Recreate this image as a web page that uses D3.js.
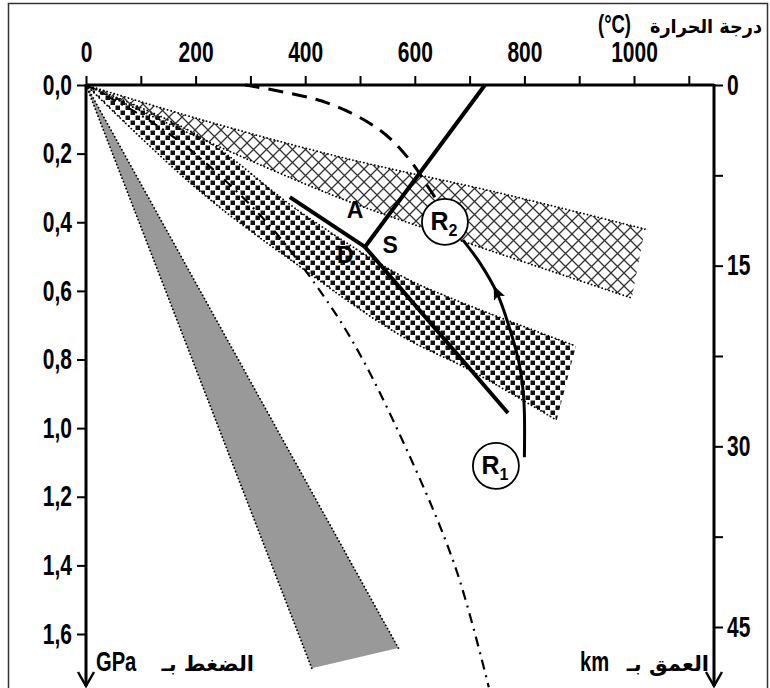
<!DOCTYPE html>
<html>
<head>
<meta charset="utf-8">
<script src="https://cdn.jsdelivr.net/npm/d3@7"></script>
<style>
  body { margin: 0; background: #fff; }
</style>
</head>
<body>
<svg id="chart" width="770" height="688"></svg>
<script>
// axis ticks
var tempTicks = [0, 100, 200, 300, 400, 500, 600, 700, 800, 900, 1000, 1100];
var tempLabels = [0, 200, 400, 600, 800, 1000];
var pressTicks = [0, 0.2, 0.4, 0.6, 0.8, 1.0, 1.2, 1.4, 1.6];
var depthTicks = [0, 7.5, 15, 22.5, 30, 37.5, 45];
var depthLabels = [0, 15, 30, 45];

// bands, points are [T (°C), P (GPa)]
var crossUpper = [[0, 0], [208, 0.1], [464, 0.21], [755, 0.315], [1020, 0.42]];
var crossLower = [[0, 0], [208, 0.155], [464, 0.33], [628, 0.423], [996, 0.621]];
var dotUpper = [[0, 0], [208, 0.15], [391, 0.37], [573, 0.554], [664, 0.62], [894, 0.761]];
var dotLower = [[0, 0], [208, 0.31], [391, 0.53], [573, 0.729], [701, 0.831], [859, 0.977]];
var greyWedge = [[0, 0], [412, 1.70], [570, 1.641]];

// curves
var dashDot = [[0, 0], [105, 0.093], [191, 0.19], [314, 0.373], [393, 0.525], [485, 0.743], [583, 1.055], [674, 1.405], [735, 1.755]];
var dashed = [[290, 0], [440, 0.052], [536, 0.131], [591, 0.219], [628, 0.306], [646, 0.35]];

// aluminosilicate lines (triple point shared)
var triple = [509, 0.472];
var lineAD = [[372, 0.327], triple];
var lineAS = [triple, [728, 0]];
var lineDS = [triple, [770, 0.956]];

// R1 -> R2 path
var pathR = [[800, 1.085], [799, 0.918], [791, 0.816], [774, 0.714], [750, 0.606], [719, 0.519], [688, 0.452]];

var circles = [
  {name: 'R', sub: '1', t: 748, p: 1.11},
  {name: 'R', sub: '2', t: 655, p: 0.399}
];
var letters = [
  {name: 'A', t: 491, p: 0.364},
  {name: 'D', t: 473, p: 0.496},
  {name: 'S', t: 555, p: 0.466}
];

var numFont = "'Liberation Sans', Arial, sans-serif";
var arFont = "'DejaVu Sans', 'Noto Sans', sans-serif";
var narrow = 'scale(0.84,1.15)';

var svg = d3.select('#chart');

var x = d3.scaleLinear().domain([0, 1000]).range([86, 634]);
var yP = d3.scaleLinear().domain([0, 1.6]).range([85, 634]);
var yKm = d3.scaleLinear().domain([0, 45]).range([85, 627]);

var xRight = 714, yTop = 85, yBottom = 686;

// patterns
var defs = svg.append('defs');
var hatch = defs.append('pattern').attr('id', 'hatch')
  .attr('patternUnits', 'userSpaceOnUse').attr('width', 13).attr('height', 13);
hatch.append('path').attr('d', 'M0,0L13,13M13,0L0,13M-1,12L1,14M12,-1L14,1')
  .attr('stroke', '#333').attr('stroke-width', 1.3).attr('fill', 'none');

var dots = defs.append('pattern').attr('id', 'dots')
  .attr('patternUnits', 'userSpaceOnUse').attr('width', 10).attr('height', 10);
dots.append('rect').attr('x', 0.5).attr('y', 0.5).attr('width', 4.5).attr('height', 4.5).attr('fill', '#111');
dots.append('rect').attr('x', 5.5).attr('y', 5.5).attr('width', 4.5).attr('height', 4.5).attr('fill', '#111');

// outer frame
svg.append('rect').attr('x', 8.5).attr('y', 3.5).attr('width', 759).attr('height', 700)
  .attr('fill', 'none').attr('stroke', '#333').attr('stroke-width', 1.5);

var line = d3.line().x(function(d) { return x(d[0]); }).y(function(d) { return yP(d[1]); });
var curve = d3.line().x(function(d) { return x(d[0]); }).y(function(d) { return yP(d[1]); })
  .curve(d3.curveCatmullRom);

function band(upper, lower) {
  var a = curve(upper);
  var b = curve(lower.slice().reverse());
  return a + 'L' + b.slice(1) + 'Z';
}

function dotted(pts, c) {
  svg.append('path').attr('d', (c || curve)(pts)).attr('fill', 'none')
    .attr('stroke', '#000').attr('stroke-width', 1.8)
    .attr('stroke-dasharray', '0.1,3.6').attr('stroke-linecap', 'round');
}

// grey wedge
svg.append('path').attr('d', line(greyWedge) + 'Z').attr('fill', '#999');
dotted([greyWedge[0], greyWedge[1]], line);
dotted([greyWedge[0], greyWedge[2]], line);

// bands
svg.append('path').attr('d', band(dotUpper, dotLower)).attr('fill', 'url(#dots)');
dotted(dotUpper);
dotted(dotLower);
svg.append('path').attr('d', band(crossUpper, crossLower)).attr('fill', 'url(#hatch)');
dotted(crossUpper);
dotted(crossLower);

// dash-dot and dashed curves
svg.append('path').attr('d', curve(dashDot)).attr('fill', 'none')
  .attr('stroke', '#000').attr('stroke-width', 2.2).attr('stroke-dasharray', '10,6,2,6');
svg.append('path').attr('d', curve(dashed)).attr('fill', 'none')
  .attr('stroke', '#000').attr('stroke-width', 3).attr('stroke-dasharray', '15,9');

// aluminosilicate lines
[lineAD, lineAS, lineDS].forEach(function(l) {
  svg.append('path').attr('d', line(l)).attr('fill', 'none')
    .attr('stroke', '#000').attr('stroke-width', 4);
});

// R1 -> R2 path with arrow
svg.append('path').attr('d', curve(pathR)).attr('fill', 'none')
  .attr('stroke', '#000').attr('stroke-width', 3);
var a0 = pathR[3], a1 = pathR[5];
var ang = Math.atan2(yP(a1[1]) - yP(a0[1]), x(a1[0]) - x(a0[0])) * 180 / Math.PI;
svg.append('path').attr('d', 'M8,0L-6,-6L-3,0L-6,6Z').attr('fill', '#000')
  .attr('transform', 'translate(' + x(pathR[4][0]) + ',' + yP(pathR[4][1]) + ') rotate(' + ang + ')');

// letters
letters.forEach(function(l) {
  svg.append('text').attr('x', x(l.t)).attr('y', yP(l.p)).attr('dy', '0.36em')
    .attr('text-anchor', 'middle').attr('font-family', "'Liberation Sans', sans-serif")
    .attr('font-weight', 'bold').attr('font-size', 23).text(l.name);
});

// circles R1, R2
circles.forEach(function(c) {
  var g = svg.append('g').attr('transform', 'translate(' + x(c.t) + ',' + yP(c.p) + ')');
  g.append('circle').attr('r', 23).attr('fill', '#fff').attr('stroke', '#000').attr('stroke-width', 1.8);
  var t = g.append('text').attr('text-anchor', 'middle').attr('x', -1).attr('y', 8)
    .attr('font-family', "'Liberation Sans', sans-serif").attr('font-weight', 'bold').attr('font-size', 25);
  t.append('tspan').text(c.name);
  t.append('tspan').attr('font-size', 16).attr('dy', 6).text(c.sub);
});

// axes
function styleAxis(g) {
  g.select('.domain').remove();
  g.selectAll('.tick line').attr('stroke', '#000').attr('stroke-width', 2);
  g.selectAll('.tick text').attr('fill', '#000').each(function() {
    var t = d3.select(this);
    var tx = +t.attr('x') || 0, ty = +t.attr('y') || 0;
    t.attr('x', 0).attr('y', 0).attr('transform', 'translate(' + tx + ',' + ty + ') ' + narrow);
  });
  g.attr('font-family', numFont).attr('font-weight', 'bold').attr('font-size', 25);
}

svg.append('g').attr('transform', 'translate(0,' + yTop + ')')
  .call(d3.axisTop(x).tickValues(tempTicks).tickSize(9).tickPadding(14)
    .tickFormat(function(d) { return tempLabels.indexOf(d) >= 0 ? d : ''; }))
  .call(styleAxis);

svg.append('g').attr('transform', 'translate(' + x(0) + ',0)')
  .call(d3.axisLeft(yP).tickValues(pressTicks).tickSize(9).tickPadding(5)
    .tickFormat(function(d) { return d3.format('.1f')(d).replace('.', ','); }))
  .call(styleAxis);

svg.append('g').attr('transform', 'translate(' + xRight + ',0)')
  .call(d3.axisRight(yKm).tickValues(depthTicks).tickSize(9).tickPadding(4)
    .tickFormat(function(d) { return depthLabels.indexOf(d) >= 0 ? d : ''; }))
  .call(styleAxis);

// axis lines with arrows
svg.append('path').attr('d', 'M' + x(0) + ',' + yTop + 'H' + xRight)
  .attr('stroke', '#000').attr('stroke-width', 3).attr('fill', 'none');
[x(0), xRight].forEach(function(ax) {
  svg.append('path').attr('d', 'M' + ax + ',' + (yTop - 1) + 'V' + yBottom)
    .attr('stroke', '#000').attr('stroke-width', 3).attr('fill', 'none');
  svg.append('path').attr('d', 'M' + (ax - 8) + ',' + (yBottom - 14) + 'L' + ax + ',' + yBottom + 'L' + (ax + 8) + ',' + (yBottom - 14))
    .attr('stroke', '#000').attr('stroke-width', 2.5).attr('fill', 'none');
});

// axis titles
function label(txt, xx, yy, anchor, font, size, tr) {
  return svg.append('text').attr('text-anchor', anchor)
    .attr('transform', 'translate(' + xx + ',' + yy + ') ' + (tr || ''))
    .attr('font-family', font).attr('font-weight', 'bold').attr('font-size', size).text(txt);
}
label('(°C)', 598, 33, 'start', numFont, 22, narrow);
label('درجة الحرارة', 762, 33, 'end', arFont, 19)
  .attr('textLength', 112).attr('lengthAdjust', 'spacingAndGlyphs');
label('GPa', 96, 671, 'start', numFont, 24, narrow);
label('الضغط بـ', 254, 671, 'end', arFont, 21);
label('km', 580, 671, 'start', numFont, 24, narrow);
label('العمق بـ', 709, 671, 'end', arFont, 21);
</script>
</body>
</html>
